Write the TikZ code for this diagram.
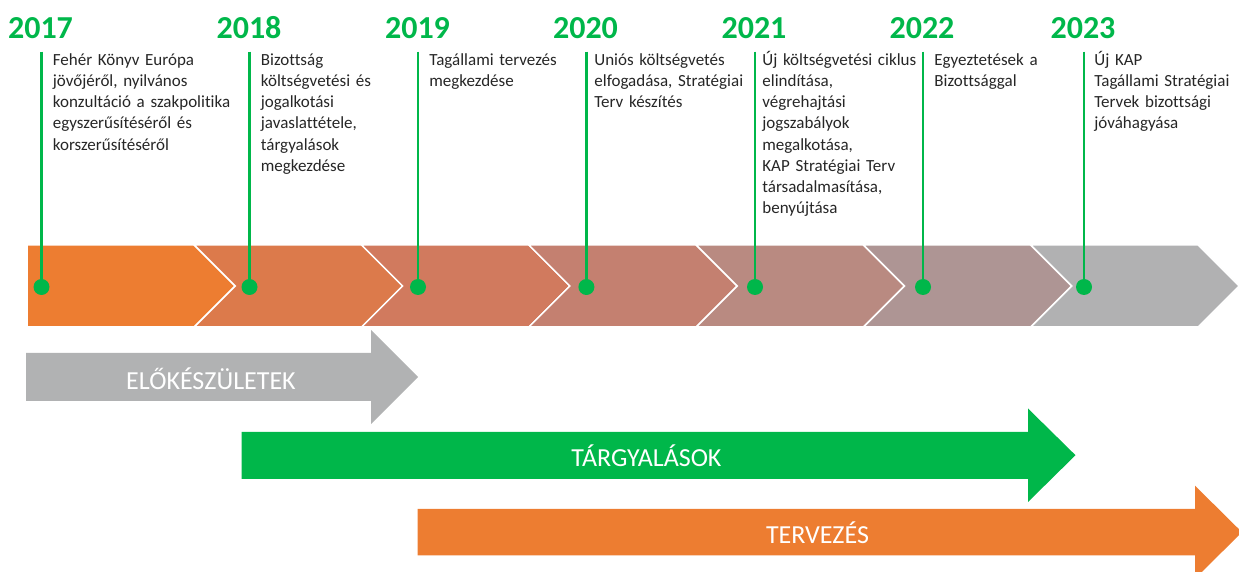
\documentclass[tikz,border=0pt]{standalone}
\usepackage{fontspec}
\setmainfont{Carlito}[Ligatures=NoCommon]
\definecolor{kapgreen}{HTML}{00B74A}
\definecolor{kaporange}{HTML}{ED7D31}
\definecolor{kapgrey}{HTML}{B1B2B3}
\definecolor{chev1}{HTML}{ED7D31}
\definecolor{chev2}{HTML}{DC7A4B}
\definecolor{chev3}{HTML}{D17A5E}
\definecolor{chev4}{HTML}{C48070}
\definecolor{chev5}{HTML}{B98A81}
\definecolor{chev6}{HTML}{AE9594}
\definecolor{chev7}{HTML}{B1B1B2}
\pgfdeclarelayer{edgelayer}
\pgfdeclarelayer{nodelayer}
\pgfsetlayers{edgelayer,nodelayer,main}
\tikzstyle{none}=[inner sep=0pt]
\tikzstyle{year}=[inner sep=0pt,anchor=base,text=kapgreen,font=\bfseries\fontsize{16pt}{18pt}\selectfont]
\tikzstyle{event}=[inner sep=0pt,anchor=base west,text width=100pt,align=left,text=black!85,font=\fontsize{8.5pt}{10.55pt}\selectfont]
\tikzstyle{dot}=[circle,fill=kapgreen,inner sep=0pt,minimum size=8pt]
\tikzstyle{phase}=[inner sep=0pt,text=white,font=\fontsize{13pt}{15pt}\selectfont]
\tikzstyle{stem}=[-,draw=kapgreen,line width=1.25pt]
\tikzstyle{chevron}=[draw=white,line width=0.75pt,line join=miter]

\begin{document}
\begin{tikzpicture}[x=0.5pt,y=-0.5pt]
	\useasboundingbox (0,0) rectangle (1239,572);
	\begin{pgfonlayer}{nodelayer}
		\node [style=year] (0) at (40.5, 38.3) {2017};
		\node [style=year] (1) at (249, 38.3) {2018};
		\node [style=year] (2) at (417.5, 38.3) {2019};
		\node [style=year] (3) at (585.5, 38.3) {2020};
		\node [style=year] (4) at (754, 38.3) {2021};
		\node [style=year] (5) at (922, 38.3) {2022};
		\node [style=year] (6) at (1083, 38.3) {2023};
		\node [style=none] (7) at (41.5, 51.7) {};
		\node [style=none] (8) at (249.5, 51.7) {};
		\node [style=none] (9) at (418, 51.7) {};
		\node [style=none] (10) at (586.4, 51.7) {};
		\node [style=none] (11) at (755, 51.7) {};
		\node [style=none] (12) at (923, 51.7) {};
		\node [style=none] (13) at (1084, 51.7) {};
		\node [style=dot] (14) at (41.5, 287) {};
		\node [style=dot] (15) at (249.5, 287) {};
		\node [style=dot] (16) at (418, 287) {};
		\node [style=dot] (17) at (586.4, 287) {};
		\node [style=dot] (18) at (755, 287) {};
		\node [style=dot] (19) at (923, 287) {};
		\node [style=dot] (20) at (1084, 287) {};
		\node [style=event] (21) at (52.5, 65.7) {Fehér Könyv Európa\\jövőjéről, nyilvános\\konzultáció a szakpolitika\\egyszerűsítéséről és\\korszerűsítéséről};
		\node [style=event] (22) at (260.5, 65.7) {Bizottság\\költségvetési és\\jogalkotási\\javaslattétele,\\tárgyalások\\megkezdése};
		\node [style=event] (23) at (429, 65.7) {Tagállami tervezés\\megkezdése};
		\node [style=event] (24) at (594, 65.7) {Uniós költségvetés\\elfogadása, Stratégiai\\Terv készítés};
		\node [style=event] (25) at (762, 65.7) {Új költségvetési ciklus\\elindítása,\\végrehajtási\\jogszabályok\\megalkotása,\\KAP Stratégiai Terv\\társadalmasítása,\\benyújtása};
		\node [style=event] (26) at (934, 65.7) {Egyeztetések a\\Bizottsággal};
		\node [style=event] (27) at (1094, 65.7) {Új KAP\\Tagállami Stratégiai\\Tervek bizottsági\\jóváhagyása};
		\node [style=phase] (28) at (211, 379) {ELŐKÉSZÜLETEK};
		\node [style=phase] (29) at (646.5, 456) {TÁRGYALÁSOK};
		\node [style=phase] (30) at (817.5, 533) {TERVEZÉS};
	\end{pgfonlayer}
	\begin{pgfonlayer}{edgelayer}
		\filldraw [style=chevron, fill=chev1] (27, 245) -- (194.3, 245) -- (235.3, 286) -- (194.3, 327) -- (27, 327) -- cycle;
		\filldraw [style=chevron, fill=chev2] (194.3, 245) -- (361.6, 245) -- (402.6, 286) -- (361.6, 327) -- (194.3, 327) -- (235.3, 286) -- cycle;
		\filldraw [style=chevron, fill=chev3] (361.6, 245) -- (528.9, 245) -- (569.9, 286) -- (528.9, 327) -- (361.6, 327) -- (402.6, 286) -- cycle;
		\filldraw [style=chevron, fill=chev4] (528.9, 245) -- (696.2, 245) -- (737.2, 286) -- (696.2, 327) -- (528.9, 327) -- (569.9, 286) -- cycle;
		\filldraw [style=chevron, fill=chev5] (696.2, 245) -- (863.5, 245) -- (904.5, 286) -- (863.5, 327) -- (696.2, 327) -- (737.2, 286) -- cycle;
		\filldraw [style=chevron, fill=chev6] (863.5, 245) -- (1030.8, 245) -- (1071.8, 286) -- (1030.8, 327) -- (863.5, 327) -- (904.5, 286) -- cycle;
		\filldraw [style=chevron, fill=chev7] (1030.8, 245) -- (1198.1, 245) -- (1239.1, 286) -- (1198.1, 327) -- (1030.8, 327) -- (1071.8, 286) -- cycle;
		\fill [kapgrey] (26, 353) -- (371, 353) -- (371, 330) -- (418, 377) -- (371, 424) -- (371, 401) -- (26, 401) -- cycle;
		\fill [kapgreen] (241.6, 432) -- (1028, 432) -- (1028, 408.5) -- (1075.5, 455.2) -- (1028, 502) -- (1028, 479) -- (241.6, 479) -- cycle;
		\fill [kaporange] (417.6, 509) -- (1195, 509) -- (1195, 485.7) -- (1242, 532.2) -- (1195, 578.7) -- (1195, 555.3) -- (417.6, 555.3) -- cycle;
		\draw [style=stem] (7.center) to (14.center);
		\draw [style=stem] (8.center) to (15.center);
		\draw [style=stem] (9.center) to (16.center);
		\draw [style=stem] (10.center) to (17.center);
		\draw [style=stem] (11.center) to (18.center);
		\draw [style=stem] (12.center) to (19.center);
		\draw [style=stem] (13.center) to (20.center);
	\end{pgfonlayer}
\end{tikzpicture}
\end{document}
